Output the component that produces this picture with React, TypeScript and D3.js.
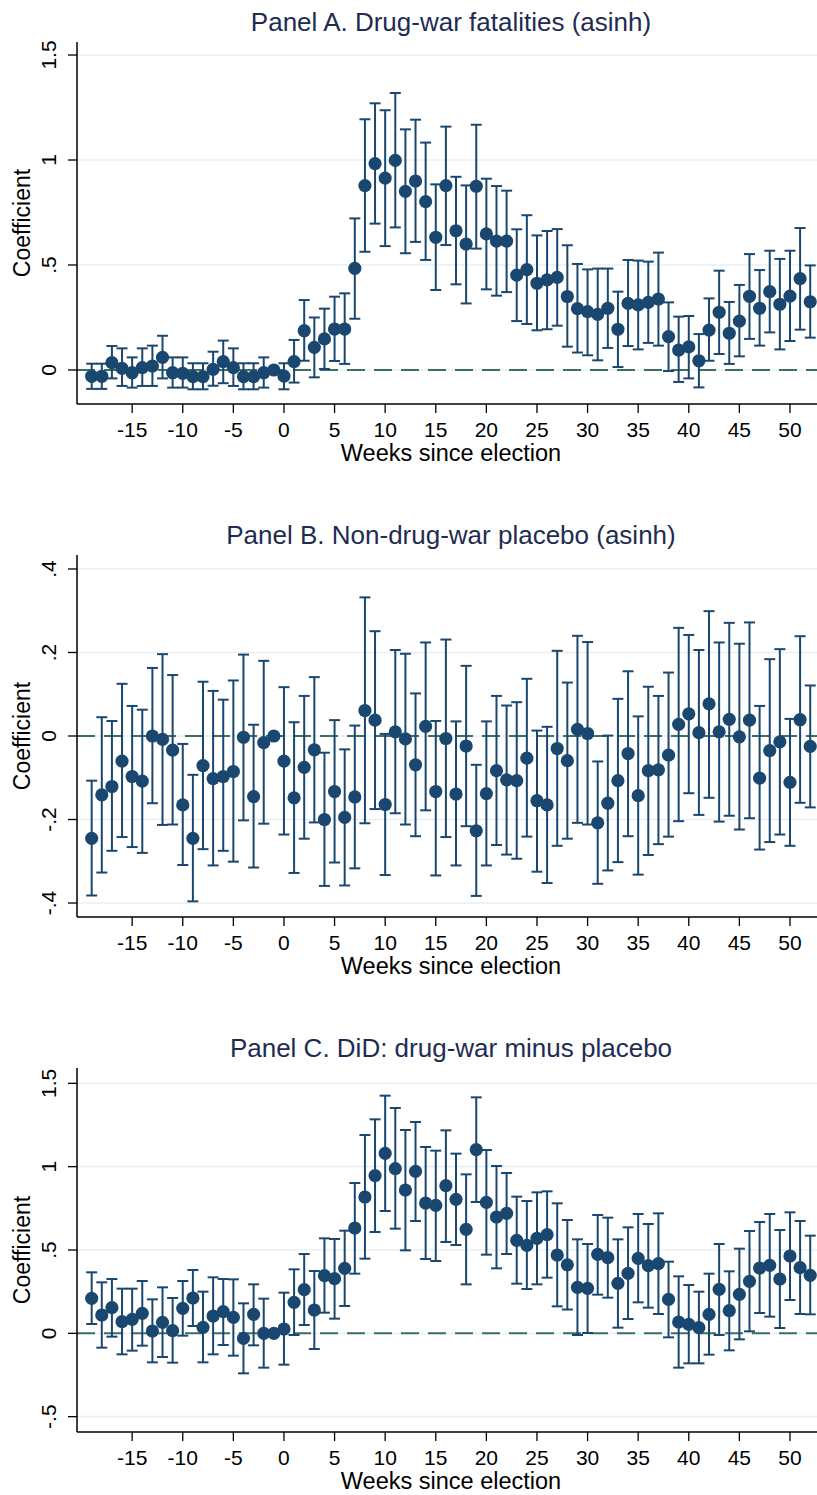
import React from "react";
import * as d3 from "d3";

const weeks = [-19,-18,-17,-16,-15,-14,-13,-12,-11,-10,-9,-8,-7,-6,-5,-4,-3,-2,-1,0,1,2,3,4,5,6,7,8,9,10,11,12,13,14,15,16,17,18,19,20,21,22,23,24,25,26,27,28,29,30,31,32,33,34,35,36,37,38,39,40,41,42,43,44,45,46,47,48,49,50,51,52];
const xTicks = [-15,-10,-5,0,5,10,15,20,25,30,35,40,45,50];

// Panel A
const coefA = [-0.03,-0.03,0.035,0.008,-0.013,0.011,0.019,0.06,-0.013,-0.016,-0.032,-0.032,0.003,0.04,0.011,-0.032,-0.032,-0.013,0,-0.029,0.04,0.187,0.108,0.148,0.195,0.195,0.484,0.878,0.983,0.914,0.998,0.851,0.9,0.802,0.632,0.878,0.663,0.6,0.875,0.648,0.614,0.614,0.452,0.478,0.413,0.429,0.441,0.35,0.292,0.278,0.265,0.294,0.194,0.317,0.31,0.322,0.338,0.159,0.095,0.11,0.044,0.19,0.275,0.175,0.233,0.351,0.294,0.373,0.313,0.352,0.435,0.325];
const hiA = [0.03,0.03,0.114,0.103,0.06,0.103,0.116,0.163,0.06,0.06,0.032,0.032,0.087,0.14,0.103,0.032,0.032,0.06,null,0.032,0.143,0.333,0.25,0.292,0.349,0.365,0.722,1.194,1.27,1.237,1.319,1.146,1.192,1.083,0.884,1.159,0.92,0.879,1.168,0.911,0.876,0.854,0.67,0.737,0.641,0.662,0.671,0.594,0.505,0.479,0.483,0.483,0.373,0.524,0.521,0.516,0.559,0.322,0.254,0.257,0.171,0.341,0.473,0.324,0.405,0.552,0.476,0.568,0.529,0.568,0.676,0.498];
const loA = [-0.09,-0.09,-0.04,-0.076,-0.084,-0.076,-0.076,-0.04,-0.084,-0.084,-0.092,-0.092,-0.075,-0.063,-0.076,-0.092,-0.092,-0.084,null,-0.092,-0.06,0.044,-0.035,0.005,0.043,0.029,0.244,0.563,0.697,0.59,0.679,0.556,0.61,0.524,0.381,0.595,0.408,0.317,0.578,0.384,0.354,0.371,0.233,0.219,0.189,0.194,0.211,0.111,0.083,0.07,0.046,0.105,0.014,0.114,0.098,0.129,0.116,-0.005,-0.057,-0.04,-0.083,0.044,0.076,0.029,0.065,0.148,0.116,0.179,0.098,0.138,0.192,0.154];
const yTicksA = [0, 0.5, 1, 1.5];
const yLabelsA = ["0", ".5", "1", "1.5"];

// Panel B
const coefB = [-0.245,-0.141,-0.121,-0.06,-0.097,-0.108,0.0,-0.008,-0.034,-0.165,-0.245,-0.071,-0.102,-0.097,-0.085,-0.003,-0.145,-0.016,0,-0.06,-0.148,-0.075,-0.033,-0.2,-0.133,-0.195,-0.146,0.061,0.038,-0.164,0.01,-0.007,-0.069,0.023,-0.133,-0.006,-0.139,-0.024,-0.227,-0.138,-0.083,-0.105,-0.107,-0.053,-0.155,-0.165,-0.03,-0.059,0.016,0.006,-0.208,-0.161,-0.107,-0.042,-0.143,-0.083,-0.081,-0.046,0.028,0.053,0.008,0.077,0.01,0.04,-0.002,0.038,-0.101,-0.035,-0.014,-0.111,0.039,-0.025];
const hiB = [-0.107,0.045,0.036,0.125,0.072,0.063,0.163,0.196,0.146,-0.019,-0.093,0.13,0.108,0.087,0.133,0.195,0.027,0.18,null,0.117,0.033,0.096,0.141,-0.04,0.038,-0.032,0.025,0.332,0.251,0.005,0.206,0.197,0.102,0.224,0.036,0.231,0.035,0.168,-0.069,0.035,0.096,0.073,0.081,0.137,0.013,0.022,0.204,0.128,0.24,0.225,-0.061,0.001,0.089,0.155,0.047,0.118,0.096,0.152,0.259,0.242,0.206,0.299,0.224,0.271,0.221,0.272,0.072,0.184,0.208,0.041,0.239,0.121];
const loB = [-0.382,-0.327,-0.275,-0.242,-0.266,-0.28,-0.161,-0.213,-0.212,-0.309,-0.396,-0.271,-0.31,-0.275,-0.301,-0.202,-0.315,-0.21,null,-0.236,-0.328,-0.246,-0.207,-0.359,-0.303,-0.358,-0.317,-0.209,-0.175,-0.333,-0.185,-0.212,-0.24,-0.178,-0.334,-0.242,-0.31,-0.216,-0.383,-0.31,-0.261,-0.284,-0.294,-0.241,-0.325,-0.352,-0.263,-0.246,-0.208,-0.212,-0.354,-0.322,-0.302,-0.24,-0.332,-0.285,-0.259,-0.241,-0.204,-0.137,-0.189,-0.148,-0.205,-0.191,-0.224,-0.197,-0.272,-0.254,-0.236,-0.263,-0.16,-0.171];
const yTicksB = [-0.4, -0.2, 0, 0.2, 0.4];
const yLabelsB = ["-.4", "-.2", "0", ".2", ".4"];

// Panel C
const coefC = [0.21,0.11,0.154,0.07,0.084,0.12,0.014,0.066,0.016,0.15,0.212,0.036,0.104,0.13,0.096,-0.03,0.114,0.0,0,0.026,0.186,0.262,0.14,0.346,0.328,0.39,0.632,0.818,0.946,1.08,0.988,0.86,0.972,0.782,0.768,0.886,0.804,0.624,1.102,0.786,0.698,0.72,0.558,0.528,0.57,0.592,0.47,0.411,0.276,0.27,0.474,0.454,0.3,0.36,0.45,0.406,0.418,0.204,0.068,0.054,0.034,0.114,0.264,0.136,0.234,0.312,0.392,0.408,0.326,0.464,0.394,0.348];
const hiC = [0.366,0.306,0.326,0.268,0.268,0.314,0.204,0.276,0.212,0.314,0.38,0.25,0.336,0.326,0.324,0.18,0.294,0.208,null,0.244,0.384,0.476,0.374,0.57,0.566,0.616,0.902,1.19,1.284,1.426,1.352,1.22,1.268,1.118,1.096,1.218,1.078,0.954,1.416,1.1,1.004,0.962,0.82,0.794,0.846,0.852,0.78,0.68,0.564,0.536,0.71,0.694,0.564,0.636,0.716,0.656,0.72,0.43,0.342,0.29,0.25,0.358,0.536,0.372,0.508,0.614,0.668,0.716,0.62,0.726,0.674,0.586];
const loC = [0.056,-0.086,-0.02,-0.126,-0.104,-0.074,-0.174,-0.142,-0.176,-0.014,0.044,-0.174,-0.126,-0.07,-0.134,-0.24,-0.072,-0.206,null,-0.188,-0.01,0.05,-0.094,0.124,0.088,0.164,0.358,0.448,0.608,0.734,0.628,0.498,0.674,0.446,0.434,0.548,0.53,0.294,0.788,0.472,0.39,0.476,0.298,0.266,0.294,0.334,0.162,0.143,-0.01,0.002,0.232,0.214,0.034,0.086,0.186,0.154,0.116,-0.024,-0.206,-0.18,-0.18,-0.128,-0.01,-0.102,-0.036,0.012,0.122,0.1,0.032,0.2,0.116,0.114];
const yTicksC = [-0.5, 0, 0.5, 1, 1.5];
const yLabelsC = ["-.5", "0", ".5", "1", "1.5"];

const titles = [
  "Panel A. Drug-war fatalities (asinh)",
  "Panel B. Non-drug-war placebo (asinh)",
  "Panel C. DiD: drug-war minus placebo",
];

const NAVY = "#1a476f";
const FONT = "'Liberation Sans', Arial, Helvetica, sans-serif";

type PanelSpec = {
  title: string;
  coef: number[];
  hi: (number | null)[];
  lo: (number | null)[];
  yTicks: number[];
  yLabels: string[];
  yDomain: [number, number];
  top: number;
  bottom: number;
};

const panels: PanelSpec[] = [
  { title: titles[0], coef: coefA, hi: hiA, lo: loA, yTicks: yTicksA, yLabels: yLabelsA, yDomain: [-0.162, 1.562], top: 42, bottom: 404 },
  { title: titles[1], coef: coefB, hi: hiB, lo: loB, yTicks: yTicksB, yLabels: yLabelsB, yDomain: [-0.4335, 0.4335], top: 555, bottom: 917 },
  { title: titles[2], coef: coefC, hi: hiC, lo: loC, yTicks: yTicksC, yLabels: yLabelsC, yDomain: [-0.592, 1.592], top: 1068, bottom: 1432 },
];

const LEFT = 77;
const RIGHT = 825;

function Panel({ p }: { p: PanelSpec }) {
  const x = d3.scaleLinear().domain([-20.45, 53.46]).range([LEFT, RIGHT]);
  const y = d3.scaleLinear().domain(p.yDomain).range([p.bottom, p.top]);
  const cap = 5.5;
  return (
    <g>
      <text x={(LEFT + RIGHT) / 2} y={p.top - 11} textAnchor="middle" fontSize={26} fill="#1e2c52" fontFamily={FONT}>
        {p.title}
      </text>
      {p.yTicks.map((t) => (
        <line key={"g" + t} x1={LEFT} x2={RIGHT} y1={y(t)} y2={y(t)} stroke="#e9eff3" strokeWidth={1.6} />
      ))}
      <line x1={LEFT} x2={RIGHT} y1={y(0)} y2={y(0)} stroke="#3b6f63" strokeWidth={2} strokeDasharray="18 9" />
      {weeks.map((w, i) => {
        const h = p.hi[i];
        const l = p.lo[i];
        if (h === null || l === null) return null;
        const cx = x(w);
        return (
          <g key={"e" + w} stroke={NAVY} strokeWidth={2} fill="none">
            <line x1={cx} x2={cx} y1={y(h)} y2={y(l)} />
            <line x1={cx - cap} x2={cx + cap} y1={y(h)} y2={y(h)} />
            <line x1={cx - cap} x2={cx + cap} y1={y(l)} y2={y(l)} />
          </g>
        );
      })}
      {weeks.map((w, i) => (
        <circle key={"c" + w} cx={x(w)} cy={y(p.coef[i])} r={6.6} fill={NAVY} />
      ))}
      <line x1={LEFT} x2={LEFT} y1={p.top} y2={p.bottom} stroke="#000" strokeWidth={1.5} />
      <line x1={LEFT} x2={RIGHT} y1={p.bottom} y2={p.bottom} stroke="#000" strokeWidth={1.5} />
      {p.yTicks.map((t, i) => (
        <g key={"yt" + t}>
          <line x1={LEFT - 9} x2={LEFT} y1={y(t)} y2={y(t)} stroke="#000" strokeWidth={1.3} />
          <text transform={`translate(56,${y(t)}) rotate(-90)`} textAnchor="middle" fontSize={21} fontFamily={FONT} fill="#000">
            {p.yLabels[i]}
          </text>
        </g>
      ))}
      {xTicks.map((t) => (
        <g key={"xt" + t}>
          <line x1={x(t)} x2={x(t)} y1={p.bottom} y2={p.bottom + 9} stroke="#000" strokeWidth={1.3} />
          <text x={x(t)} y={p.bottom + 33} textAnchor="middle" fontSize={21} fontFamily={FONT} fill="#000">
            {String(t)}
          </text>
        </g>
      ))}
      <text x={(LEFT + RIGHT) / 2} y={p.bottom + 57} textAnchor="middle" fontSize={23.5} fontFamily={FONT} fill="#000">
        Weeks since election
      </text>
      <text transform={`translate(30,${(p.top + p.bottom) / 2}) rotate(-90)`} textAnchor="middle" fontSize={23} fontFamily={FONT} fill="#000">
        Coefficient
      </text>
    </g>
  );
}

export default function App() {
  return (
    <div style={{ position: "absolute", left: 0, top: 0 }}>
      <svg width={817} height={1495} style={{ display: "block", background: "#fff" }}>
        <rect x={0} y={0} width={817} height={1495} fill="#fff" />
        {panels.map((p, i) => (
          <Panel key={i} p={p} />
        ))}
      </svg>
    </div>
  );
}
